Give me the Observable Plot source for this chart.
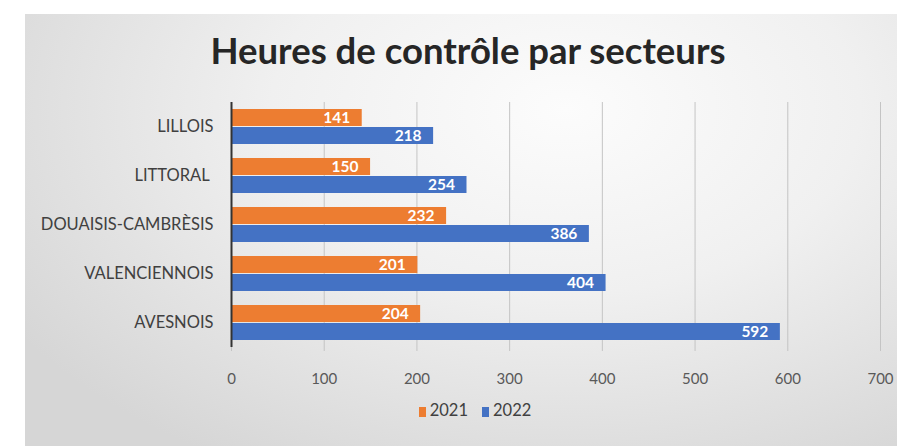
<!DOCTYPE html>
<html>
<head>
<meta charset="utf-8">
<script src="https://cdn.jsdelivr.net/npm/d3@7"></script>
<script src="https://cdn.jsdelivr.net/npm/@observablehq/plot@0.6"></script>
<style>
  html, body { margin: 0; padding: 0; background: #fff; }
  #wrap { position: relative; width: 897px; height: 446px; overflow: hidden; font-family: Lato, "Open Sans", sans-serif; }
  #panel { position: absolute; left: 25px; top: 14px; right: 0; bottom: 0;
    background: radial-gradient(ellipse 75% 95% at 62% 22%, #fcfcfc 0%, #f0f0f0 45%, #d6d6d6 100%); }
  #title { position: absolute; left: 0; width: 936px; top: 28px; text-align: center; font-weight: bold; font-size: 36.5px; color: #262626; }
  #chart { position: absolute; left: 0; top: 95px; }
  #legend { position: absolute; left: 0; width: 950px; top: 400px; text-align: center; font-size: 16.5px; color: #404040; }
  #legend span.sw { display: inline-block; width: 7px; height: 10px; margin-right: 4px; vertical-align: -1px; }
  #legend span.it { margin: 0 7px; }
</style>
</head>
<body>
<div id="wrap">
  <div id="panel"></div>
  <div id="title">Heures de contrôle par secteurs</div>
  <div id="chart"></div>
  <div id="legend"></div>
</div>
<script>
const sectors = ["LILLOIS", "LITTORAL\u00A0", "DOUAISIS-CAMBRÈSIS", "VALENCIENNOIS", "AVESNOIS"];
const years = ["2021", "2022"];
const values2021 = [141, 150, 232, 201, 204];
const values2022 = [218, 254, 386, 404, 592];
const xTicks = [0, 100, 200, 300, 400, 500, 600, 700];
const colors = ["#ED7D31", "#4472C4"];

const data = [];
sectors.forEach((s, i) => {
  data.push({sector: s, year: years[0], value: values2021[i]});
  data.push({sector: s, year: years[1], value: values2022[i]});
});

const chart = Plot.plot({
  width: 897,
  height: 298,
  marginLeft: 231,
  marginRight: 17,
  marginTop: 5,
  marginBottom: 45,
  style: {background: "transparent", fontFamily: "Lato, 'Open Sans', sans-serif"},
  x: {domain: [0, 700]},
  fy: {domain: sectors, padding: 0},
  y: {domain: years, paddingInner: 0.08, paddingOuter: 0.38, axis: null},
  color: {domain: years, range: colors},
  marks: [
    Plot.ruleX(xTicks.slice(1), {stroke: "#c4c4c4", strokeWidth: 1}),
    Plot.barX(data, {x: "value", y: "year", fy: "sector", fill: "year"}),
    Plot.text(data, {x: "value", y: "year", fy: "sector", text: d => String(d.value),
      textAnchor: "end", dx: -12, fill: "white", fontWeight: "bold", fontSize: 15.5}),
    Plot.ruleX([0], {stroke: "#333", strokeWidth: 2}),
    Plot.axisX({ticks: xTicks, tickSize: 4, tickPadding: 22, stroke: "#c4c4c4", fill: "#595959", fontSize: 15, label: null}),
    Plot.axisFy({anchor: "left", tickSize: 0, tickPadding: 18, fill: "#404040", fontSize: 16.5, label: null})
  ]
});
document.getElementById("chart").appendChild(chart);

const legend = document.getElementById("legend");
years.forEach((y, i) => {
  const it = document.createElement("span");
  it.className = "it";
  const sw = document.createElement("span");
  sw.className = "sw";
  sw.style.background = colors[i];
  it.appendChild(sw);
  it.appendChild(document.createTextNode(y));
  legend.appendChild(it);
});
</script>
</body>
</html>
